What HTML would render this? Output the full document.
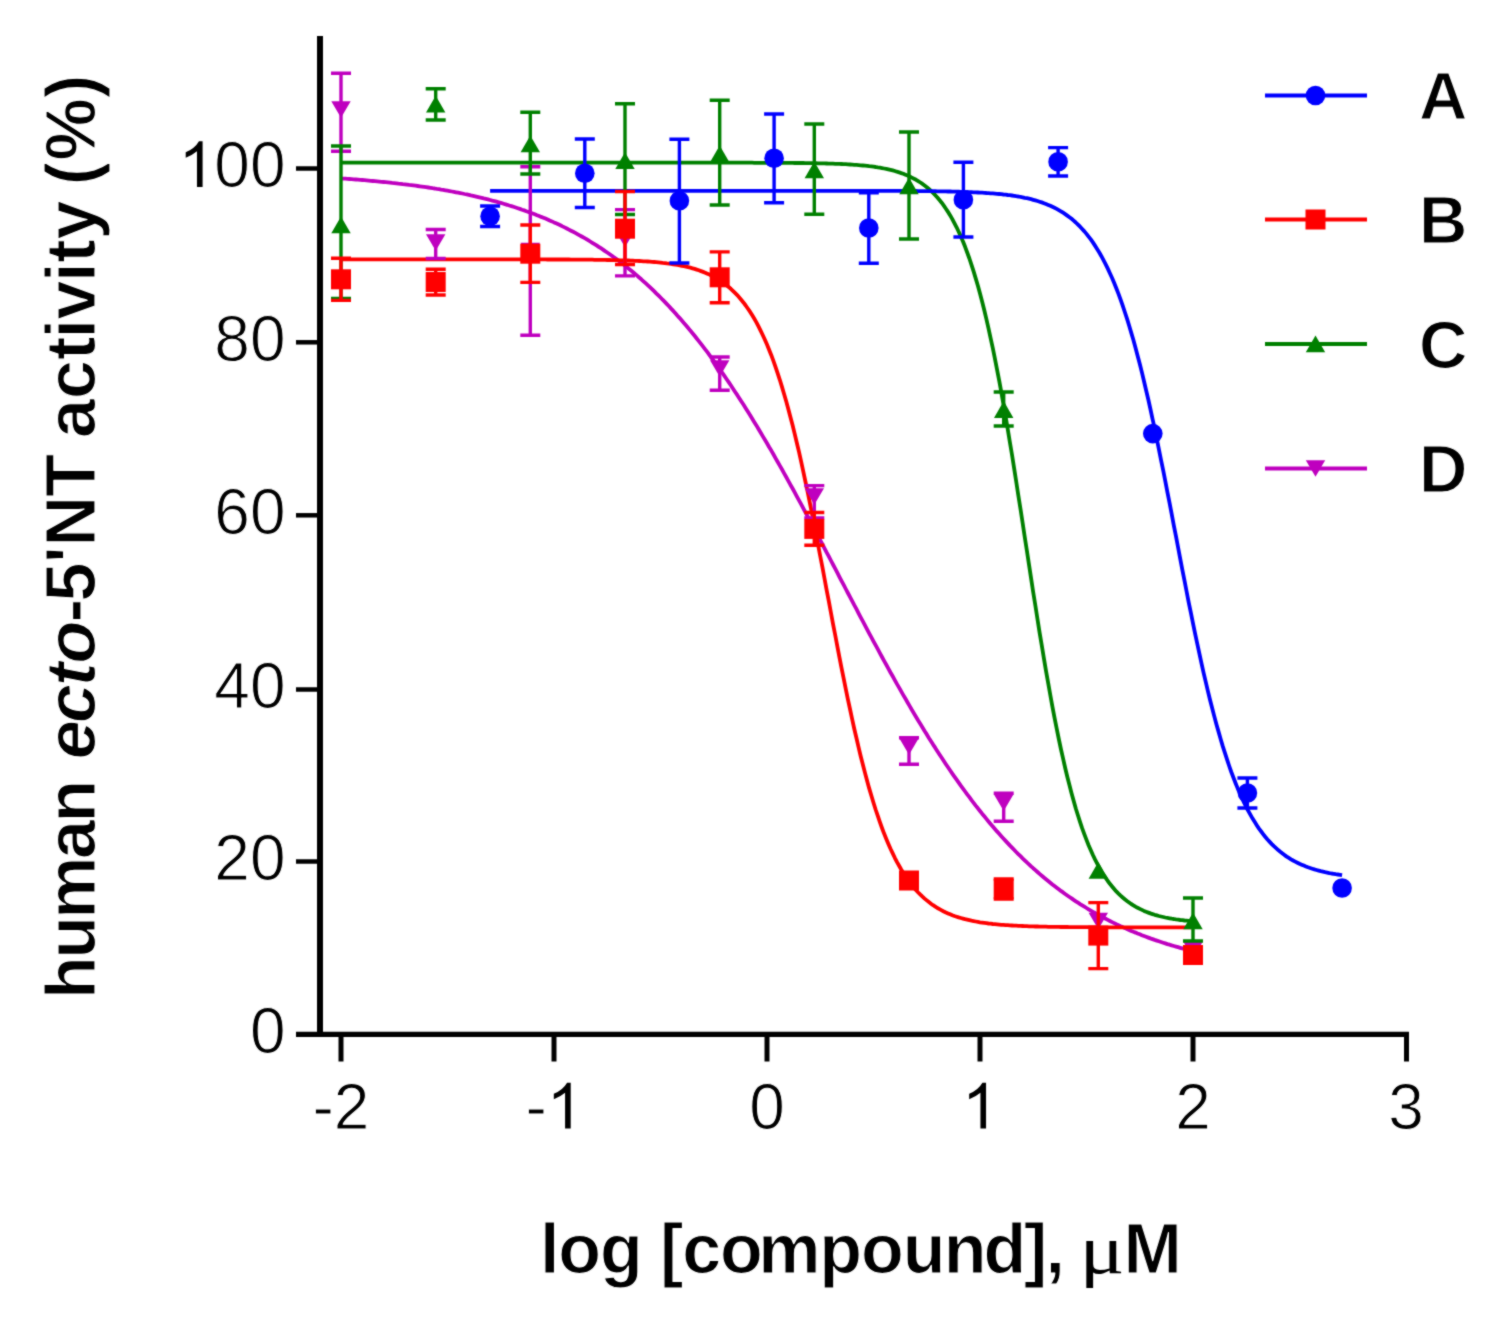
<!DOCTYPE html>
<html><head><meta charset="utf-8"><style>
html,body{margin:0;padding:0;background:#fff;}
svg{display:block;}
.tk{font-family:"Liberation Sans",sans-serif;font-size:64px;fill:#000;stroke:#fff;stroke-width:1.0px;stroke-linejoin:round;}
.lg{font-family:"Liberation Sans",sans-serif;font-size:67px;font-weight:bold;fill:#000;stroke:#fff;stroke-width:1.2px;stroke-linejoin:round;}
.tt{font-family:"Liberation Sans",sans-serif;font-size:70px;font-weight:bold;fill:#000;stroke:#fff;stroke-width:1.1px;stroke-linejoin:round;}
</style></head><body>
<svg width="1500" height="1318" viewBox="0 0 1500 1318">
<defs><filter id="bl" x="0" y="0" width="1" height="1" color-interpolation-filters="sRGB"><feConvolveMatrix order="3" kernelMatrix="0.5 1 0.5 1 6 1 0.5 1 0.5" divisor="12" edgeMode="duplicate"/></filter></defs>
<rect width="1500" height="1318" fill="#fff"/>
<g filter="url(#bl)">
<rect width="1500" height="1318" fill="#fff"/>
<path d="M320,36 V1036.5" stroke="#000" stroke-width="6" fill="none"/>
<path d="M296,1034.3 H1409" stroke="#000" stroke-width="5.2" fill="none"/>
<path d="M296,168.5 H320" stroke="#000" stroke-width="4.5" fill="none"/>
<text x="285.5" y="187.0" class="tk" text-anchor="end">00</text>
<path d="M202.59,187.00 L196.97,187.00 L196.97,151.16 Q192.19,155.12 185.72,157.72 L185.72,152.28 Q195.00,148.25 198.97,141.19 L202.59,141.19 Z" fill="#000"/>
<path d="M296,342.3 H320" stroke="#000" stroke-width="4.5" fill="none"/>
<text x="285.5" y="360.8" class="tk" text-anchor="end">80</text>
<path d="M296,515.3 H320" stroke="#000" stroke-width="4.5" fill="none"/>
<text x="285.5" y="533.8" class="tk" text-anchor="end">60</text>
<path d="M296,689.5 H320" stroke="#000" stroke-width="4.5" fill="none"/>
<text x="285.5" y="708.0" class="tk" text-anchor="end">40</text>
<path d="M296,861.5 H320" stroke="#000" stroke-width="4.5" fill="none"/>
<text x="285.5" y="880.0" class="tk" text-anchor="end">20</text>
<path d="M296,1034.3 H320" stroke="#000" stroke-width="4.5" fill="none"/>
<text x="285.5" y="1052.8" class="tk" text-anchor="end">0</text>
<path d="M341.0,1034.3 V1061.5" stroke="#000" stroke-width="5" fill="none"/>
<text x="341.0" y="1128.5" class="tk" text-anchor="middle">-2</text>
<path d="M554.0,1034.3 V1061.5" stroke="#000" stroke-width="5" fill="none"/>
<text x="525.6" y="1128.5" class="tk">-</text>
<path d="M570.71,1128.50 L565.08,1128.50 L565.08,1092.66 Q560.30,1096.62 553.83,1099.22 L553.83,1093.78 Q563.11,1089.75 567.08,1082.69 L570.71,1082.69 Z" fill="#000"/>
<path d="M767.0,1034.3 V1061.5" stroke="#000" stroke-width="5" fill="none"/>
<text x="767.0" y="1128.5" class="tk" text-anchor="middle">0</text>
<path d="M980.0,1034.3 V1061.5" stroke="#000" stroke-width="5" fill="none"/>
<path d="M986.05,1128.50 L980.43,1128.50 L980.43,1092.66 Q975.65,1096.62 969.18,1099.22 L969.18,1093.78 Q978.46,1089.75 982.43,1082.69 L986.05,1082.69 Z" fill="#000"/>
<path d="M1193.0,1034.3 V1061.5" stroke="#000" stroke-width="5" fill="none"/>
<text x="1193.0" y="1128.5" class="tk" text-anchor="middle">2</text>
<path d="M1406.5,1034.3 V1061.5" stroke="#000" stroke-width="5" fill="none"/>
<text x="1406.0" y="1128.5" class="tk" text-anchor="middle">3</text>
<path d="M341.0,178.4 L343.1,178.6 L345.3,178.7 L347.4,178.9 L349.5,179.0 L351.6,179.2 L353.8,179.4 L355.9,179.5 L358.0,179.7 L360.2,179.9 L362.3,180.0 L364.4,180.2 L366.6,180.4 L368.7,180.6 L370.8,180.8 L372.9,181.0 L375.1,181.2 L377.2,181.4 L379.3,181.6 L381.5,181.8 L383.6,182.0 L385.7,182.2 L387.9,182.4 L390.0,182.6 L392.1,182.9 L394.2,183.1 L396.4,183.3 L398.5,183.6 L400.6,183.8 L402.8,184.1 L404.9,184.3 L407.0,184.6 L409.2,184.9 L411.3,185.1 L413.4,185.4 L415.6,185.7 L417.7,186.0 L419.8,186.3 L421.9,186.6 L424.1,186.9 L426.2,187.2 L428.3,187.5 L430.5,187.8 L432.6,188.2 L434.7,188.5 L436.9,188.9 L439.0,189.2 L441.1,189.6 L443.2,189.9 L445.4,190.3 L447.5,190.7 L449.6,191.1 L451.8,191.5 L453.9,191.9 L456.0,192.3 L458.1,192.7 L460.3,193.1 L462.4,193.5 L464.5,194.0 L466.7,194.4 L468.8,194.9 L470.9,195.4 L473.1,195.8 L475.2,196.3 L477.3,196.8 L479.4,197.3 L481.6,197.8 L483.7,198.4 L485.8,198.9 L488.0,199.4 L490.1,200.0 L492.2,200.6 L494.4,201.1 L496.5,201.7 L498.6,202.3 L500.8,202.9 L502.9,203.5 L505.0,204.2 L507.1,204.8 L509.3,205.5 L511.4,206.1 L513.5,206.8 L515.7,207.5 L517.8,208.2 L519.9,208.9 L522.0,209.7 L524.2,210.4 L526.3,211.2 L528.4,211.9 L530.6,212.7 L532.7,213.5 L534.8,214.3 L537.0,215.2 L539.1,216.0 L541.2,216.9 L543.4,217.7 L545.5,218.6 L547.6,219.5 L549.7,220.5 L551.9,221.4 L554.0,222.4 L556.1,223.3 L558.3,224.3 L560.4,225.3 L562.5,226.4 L564.6,227.4 L566.8,228.5 L568.9,229.6 L571.0,230.7 L573.2,231.8 L575.3,232.9 L577.4,234.1 L579.6,235.3 L581.7,236.5 L583.8,237.7 L586.0,238.9 L588.1,240.2 L590.2,241.5 L592.3,242.8 L594.5,244.1 L596.6,245.4 L598.7,246.8 L600.9,248.2 L603.0,249.6 L605.1,251.1 L607.2,252.5 L609.4,254.0 L611.5,255.5 L613.6,257.1 L615.8,258.6 L617.9,260.2 L620.0,261.8 L622.2,263.4 L624.3,265.1 L626.4,266.8 L628.5,268.5 L630.7,270.2 L632.8,272.0 L634.9,273.8 L637.1,275.6 L639.2,277.5 L641.3,279.3 L643.5,281.3 L645.6,283.2 L647.7,285.1 L649.9,287.1 L652.0,289.1 L654.1,291.2 L656.2,293.3 L658.4,295.4 L660.5,297.5 L662.6,299.7 L664.8,301.9 L666.9,304.1 L669.0,306.3 L671.1,308.6 L673.3,310.9 L675.4,313.3 L677.5,315.7 L679.7,318.1 L681.8,320.5 L683.9,323.0 L686.1,325.5 L688.2,328.0 L690.3,330.6 L692.5,333.2 L694.6,335.8 L696.7,338.5 L698.8,341.1 L701.0,343.9 L703.1,346.6 L705.2,349.4 L707.4,352.2 L709.5,355.1 L711.6,358.0 L713.8,360.9 L715.9,363.8 L718.0,366.8 L720.1,369.8 L722.3,372.8 L724.4,375.9 L726.5,379.0 L728.7,382.1 L730.8,385.3 L732.9,388.5 L735.0,391.7 L737.2,394.9 L739.3,398.2 L741.4,401.5 L743.6,404.8 L745.7,408.2 L747.8,411.6 L750.0,415.0 L752.1,418.5 L754.2,421.9 L756.4,425.4 L758.5,429.0 L760.6,432.5 L762.7,436.1 L764.9,439.7 L767.0,443.3 L769.1,447.0 L771.3,450.6 L773.4,454.3 L775.5,458.1 L777.6,461.8 L779.8,465.6 L781.9,469.3 L784.0,473.1 L786.2,477.0 L788.3,480.8 L790.4,484.7 L792.6,488.5 L794.7,492.4 L796.8,496.3 L799.0,500.3 L801.1,504.2 L803.2,508.2 L805.3,512.1 L807.5,516.1 L809.6,520.1 L811.7,524.1 L813.9,528.1 L816.0,532.1 L818.1,536.2 L820.2,540.2 L822.4,544.2 L824.5,548.3 L826.6,552.4 L828.8,556.4 L830.9,560.5 L833.0,564.5 L835.2,568.6 L837.3,572.7 L839.4,576.8 L841.5,580.8 L843.7,584.9 L845.8,589.0 L847.9,593.0 L850.1,597.1 L852.2,601.1 L854.3,605.2 L856.5,609.2 L858.6,613.3 L860.7,617.3 L862.9,621.3 L865.0,625.3 L867.1,629.3 L869.2,633.3 L871.4,637.3 L873.5,641.3 L875.6,645.2 L877.8,649.2 L879.9,653.1 L882.0,657.0 L884.1,660.9 L886.3,664.8 L888.4,668.6 L890.5,672.5 L892.7,676.3 L894.8,680.1 L896.9,683.9 L899.1,687.6 L901.2,691.4 L903.3,695.1 L905.5,698.8 L907.6,702.5 L909.7,706.1 L911.8,709.8 L914.0,713.4 L916.1,716.9 L918.2,720.5 L920.4,724.0 L922.5,727.5 L924.6,731.0 L926.8,734.4 L928.9,737.9 L931.0,741.2 L933.1,744.6 L935.3,747.9 L937.4,751.3 L939.5,754.5 L941.7,757.8 L943.8,761.0 L945.9,764.2 L948.0,767.3 L950.2,770.5 L952.3,773.6 L954.4,776.6 L956.6,779.7 L958.7,782.7 L960.8,785.7 L963.0,788.6 L965.1,791.5 L967.2,794.4 L969.4,797.2 L971.5,800.1 L973.6,802.8 L975.7,805.6 L977.9,808.3 L980.0,811.0 L982.1,813.7 L984.3,816.3 L986.4,818.9 L988.5,821.5 L990.6,824.0 L992.8,826.5 L994.9,829.0 L997.0,831.4 L999.2,833.8 L1001.3,836.2 L1003.4,838.5 L1005.6,840.9 L1007.7,843.1 L1009.8,845.4 L1012.0,847.6 L1014.1,849.8 L1016.2,852.0 L1018.3,854.1 L1020.5,856.2 L1022.6,858.3 L1024.7,860.3 L1026.9,862.4 L1029.0,864.3 L1031.1,866.3 L1033.2,868.2 L1035.4,870.1 L1037.5,872.0 L1039.6,873.9 L1041.8,875.7 L1043.9,877.5 L1046.0,879.2 L1048.2,881.0 L1050.3,882.7 L1052.4,884.4 L1054.5,886.0 L1056.7,887.7 L1058.8,889.3 L1060.9,890.9 L1063.1,892.4 L1065.2,894.0 L1067.3,895.5 L1069.5,897.0 L1071.6,898.4 L1073.7,899.9 L1075.8,901.3 L1078.0,902.7 L1080.1,904.1 L1082.2,905.4 L1084.4,906.7 L1086.5,908.0 L1088.6,909.3 L1090.8,910.6 L1092.9,911.8 L1095.0,913.0 L1097.2,914.2 L1099.3,915.4 L1101.4,916.6 L1103.5,917.7 L1105.7,918.8 L1107.8,919.9 L1109.9,921.0 L1112.1,922.1 L1114.2,923.1 L1116.3,924.2 L1118.5,925.2 L1120.6,926.2 L1122.7,927.1 L1124.8,928.1 L1127.0,929.0 L1129.1,930.0 L1131.2,930.9 L1133.4,931.8 L1135.5,932.6 L1137.6,933.5 L1139.8,934.3 L1141.9,935.2 L1144.0,936.0 L1146.1,936.8 L1148.3,937.6 L1150.4,938.4 L1152.5,939.1 L1154.7,939.9 L1156.8,940.6 L1158.9,941.3 L1161.0,942.0 L1163.2,942.7 L1165.3,943.4 L1167.4,944.1 L1169.6,944.7 L1171.7,945.4 L1173.8,946.0 L1176.0,946.6 L1178.1,947.2 L1180.2,947.8 L1182.3,948.4 L1184.5,949.0 L1186.6,949.5 L1188.7,950.1 L1190.9,950.6 L1193.0,951.2" stroke="#BF00BF" stroke-width="3.8" fill="none" stroke-linejoin="round"/>
<path d="M341.0,162.7 L343.1,162.7 L345.3,162.7 L347.4,162.7 L349.5,162.7 L351.6,162.7 L353.8,162.7 L355.9,162.7 L358.0,162.7 L360.2,162.7 L362.3,162.7 L364.4,162.7 L366.6,162.7 L368.7,162.7 L370.8,162.7 L372.9,162.7 L375.1,162.7 L377.2,162.7 L379.3,162.7 L381.5,162.7 L383.6,162.7 L385.7,162.7 L387.9,162.7 L390.0,162.7 L392.1,162.7 L394.2,162.7 L396.4,162.7 L398.5,162.7 L400.6,162.7 L402.8,162.7 L404.9,162.7 L407.0,162.7 L409.2,162.7 L411.3,162.7 L413.4,162.7 L415.6,162.7 L417.7,162.7 L419.8,162.7 L421.9,162.7 L424.1,162.7 L426.2,162.7 L428.3,162.7 L430.5,162.7 L432.6,162.7 L434.7,162.7 L436.9,162.7 L439.0,162.7 L441.1,162.7 L443.2,162.7 L445.4,162.7 L447.5,162.7 L449.6,162.7 L451.8,162.7 L453.9,162.7 L456.0,162.7 L458.1,162.7 L460.3,162.7 L462.4,162.7 L464.5,162.7 L466.7,162.7 L468.8,162.7 L470.9,162.7 L473.1,162.7 L475.2,162.7 L477.3,162.7 L479.4,162.7 L481.6,162.7 L483.7,162.7 L485.8,162.7 L488.0,162.7 L490.1,162.7 L492.2,162.7 L494.4,162.7 L496.5,162.7 L498.6,162.7 L500.8,162.7 L502.9,162.7 L505.0,162.7 L507.1,162.7 L509.3,162.7 L511.4,162.7 L513.5,162.7 L515.7,162.7 L517.8,162.7 L519.9,162.7 L522.0,162.7 L524.2,162.7 L526.3,162.7 L528.4,162.7 L530.6,162.7 L532.7,162.7 L534.8,162.7 L537.0,162.7 L539.1,162.7 L541.2,162.7 L543.4,162.7 L545.5,162.7 L547.6,162.7 L549.7,162.7 L551.9,162.7 L554.0,162.7 L556.1,162.7 L558.3,162.7 L560.4,162.7 L562.5,162.7 L564.6,162.7 L566.8,162.7 L568.9,162.7 L571.0,162.7 L573.2,162.7 L575.3,162.7 L577.4,162.7 L579.6,162.7 L581.7,162.7 L583.8,162.7 L586.0,162.7 L588.1,162.7 L590.2,162.7 L592.3,162.7 L594.5,162.7 L596.6,162.7 L598.7,162.7 L600.9,162.7 L603.0,162.7 L605.1,162.7 L607.2,162.7 L609.4,162.7 L611.5,162.7 L613.6,162.7 L615.8,162.7 L617.9,162.7 L620.0,162.7 L622.2,162.7 L624.3,162.7 L626.4,162.7 L628.5,162.7 L630.7,162.7 L632.8,162.7 L634.9,162.7 L637.1,162.7 L639.2,162.7 L641.3,162.7 L643.5,162.7 L645.6,162.7 L647.7,162.7 L649.9,162.7 L652.0,162.7 L654.1,162.7 L656.2,162.7 L658.4,162.7 L660.5,162.7 L662.6,162.7 L664.8,162.7 L666.9,162.7 L669.0,162.7 L671.1,162.7 L673.3,162.7 L675.4,162.7 L677.5,162.7 L679.7,162.7 L681.8,162.7 L683.9,162.7 L686.1,162.7 L688.2,162.7 L690.3,162.7 L692.5,162.7 L694.6,162.7 L696.7,162.7 L698.8,162.7 L701.0,162.7 L703.1,162.7 L705.2,162.7 L707.4,162.7 L709.5,162.7 L711.6,162.7 L713.8,162.7 L715.9,162.7 L718.0,162.7 L720.1,162.7 L722.3,162.7 L724.4,162.7 L726.5,162.7 L728.7,162.7 L730.8,162.7 L732.9,162.7 L735.0,162.7 L737.2,162.7 L739.3,162.7 L741.4,162.7 L743.6,162.7 L745.7,162.7 L747.8,162.7 L750.0,162.7 L752.1,162.7 L754.2,162.8 L756.4,162.8 L758.5,162.8 L760.6,162.8 L762.7,162.8 L764.9,162.8 L767.0,162.8 L769.1,162.8 L771.3,162.8 L773.4,162.8 L775.5,162.8 L777.6,162.8 L779.8,162.8 L781.9,162.9 L784.0,162.9 L786.2,162.9 L788.3,162.9 L790.4,162.9 L792.6,162.9 L794.7,163.0 L796.8,163.0 L799.0,163.0 L801.1,163.0 L803.2,163.0 L805.3,163.1 L807.5,163.1 L809.6,163.1 L811.7,163.2 L813.9,163.2 L816.0,163.2 L818.1,163.3 L820.2,163.3 L822.4,163.4 L824.5,163.4 L826.6,163.5 L828.8,163.6 L830.9,163.6 L833.0,163.7 L835.2,163.8 L837.3,163.9 L839.4,163.9 L841.5,164.0 L843.7,164.1 L845.8,164.2 L847.9,164.4 L850.1,164.5 L852.2,164.6 L854.3,164.8 L856.5,164.9 L858.6,165.1 L860.7,165.3 L862.9,165.5 L865.0,165.7 L867.1,165.9 L869.2,166.2 L871.4,166.4 L873.5,166.7 L875.6,167.0 L877.8,167.4 L879.9,167.7 L882.0,168.1 L884.1,168.5 L886.3,168.9 L888.4,169.4 L890.5,169.9 L892.7,170.4 L894.8,171.0 L896.9,171.7 L899.1,172.3 L901.2,173.1 L903.3,173.8 L905.5,174.7 L907.6,175.6 L909.7,176.5 L911.8,177.6 L914.0,178.7 L916.1,179.8 L918.2,181.1 L920.4,182.5 L922.5,183.9 L924.6,185.5 L926.8,187.2 L928.9,189.0 L931.0,190.9 L933.1,193.0 L935.3,195.2 L937.4,197.5 L939.5,200.0 L941.7,202.7 L943.8,205.6 L945.9,208.7 L948.0,211.9 L950.2,215.4 L952.3,219.1 L954.4,223.1 L956.6,227.3 L958.7,231.7 L960.8,236.5 L963.0,241.5 L965.1,246.8 L967.2,252.5 L969.4,258.5 L971.5,264.8 L973.6,271.4 L975.7,278.4 L977.9,285.8 L980.0,293.5 L982.1,301.6 L984.3,310.2 L986.4,319.1 L988.5,328.4 L990.6,338.1 L992.8,348.1 L994.9,358.6 L997.0,369.4 L999.2,380.6 L1001.3,392.2 L1003.4,404.1 L1005.6,416.4 L1007.7,428.9 L1009.8,441.7 L1012.0,454.8 L1014.1,468.1 L1016.2,481.5 L1018.3,495.2 L1020.5,509.0 L1022.6,522.8 L1024.7,536.7 L1026.9,550.7 L1029.0,564.6 L1031.1,578.4 L1033.2,592.2 L1035.4,605.8 L1037.5,619.3 L1039.6,632.6 L1041.8,645.6 L1043.9,658.4 L1046.0,670.9 L1048.2,683.1 L1050.3,695.0 L1052.4,706.6 L1054.5,717.7 L1056.7,728.6 L1058.8,739.0 L1060.9,749.0 L1063.1,758.7 L1065.2,768.0 L1067.3,776.8 L1069.5,785.3 L1071.6,793.4 L1073.7,801.1 L1075.8,808.5 L1078.0,815.5 L1080.1,822.1 L1082.2,828.4 L1084.4,834.3 L1086.5,839.9 L1088.6,845.2 L1090.8,850.2 L1092.9,855.0 L1095.0,859.4 L1097.2,863.6 L1099.3,867.5 L1101.4,871.2 L1103.5,874.7 L1105.7,877.9 L1107.8,881.0 L1109.9,883.8 L1112.1,886.5 L1114.2,889.0 L1116.3,891.4 L1118.5,893.6 L1120.6,895.6 L1122.7,897.5 L1124.8,899.3 L1127.0,901.0 L1129.1,902.5 L1131.2,904.0 L1133.4,905.3 L1135.5,906.6 L1137.6,907.8 L1139.8,908.9 L1141.9,909.9 L1144.0,910.9 L1146.1,911.8 L1148.3,912.6 L1150.4,913.4 L1152.5,914.1 L1154.7,914.8 L1156.8,915.4 L1158.9,916.0 L1161.0,916.5 L1163.2,917.0 L1165.3,917.5 L1167.4,917.9 L1169.6,918.3 L1171.7,918.7 L1173.8,919.0 L1176.0,919.4 L1178.1,919.7 L1180.2,920.0 L1182.3,920.2 L1184.5,920.5 L1186.6,920.7 L1188.7,920.9 L1190.9,921.1 L1193.0,921.3" stroke="#008000" stroke-width="3.8" fill="none" stroke-linejoin="round"/>
<path d="M341.0,259.4 L343.1,259.4 L345.3,259.4 L347.4,259.4 L349.5,259.4 L351.6,259.4 L353.8,259.4 L355.9,259.4 L358.0,259.4 L360.2,259.4 L362.3,259.4 L364.4,259.4 L366.6,259.4 L368.7,259.4 L370.8,259.4 L372.9,259.4 L375.1,259.4 L377.2,259.4 L379.3,259.4 L381.5,259.4 L383.6,259.4 L385.7,259.4 L387.9,259.4 L390.0,259.4 L392.1,259.4 L394.2,259.4 L396.4,259.4 L398.5,259.4 L400.6,259.4 L402.8,259.4 L404.9,259.4 L407.0,259.4 L409.2,259.4 L411.3,259.4 L413.4,259.4 L415.6,259.4 L417.7,259.4 L419.8,259.4 L421.9,259.4 L424.1,259.4 L426.2,259.4 L428.3,259.4 L430.5,259.4 L432.6,259.4 L434.7,259.4 L436.9,259.4 L439.0,259.4 L441.1,259.4 L443.2,259.4 L445.4,259.4 L447.5,259.4 L449.6,259.4 L451.8,259.4 L453.9,259.4 L456.0,259.4 L458.1,259.4 L460.3,259.4 L462.4,259.4 L464.5,259.4 L466.7,259.4 L468.8,259.4 L470.9,259.4 L473.1,259.4 L475.2,259.4 L477.3,259.4 L479.4,259.4 L481.6,259.4 L483.7,259.4 L485.8,259.4 L488.0,259.4 L490.1,259.4 L492.2,259.4 L494.4,259.4 L496.5,259.4 L498.6,259.4 L500.8,259.4 L502.9,259.4 L505.0,259.4 L507.1,259.4 L509.3,259.4 L511.4,259.4 L513.5,259.4 L515.7,259.4 L517.8,259.4 L519.9,259.4 L522.0,259.4 L524.2,259.4 L526.3,259.4 L528.4,259.4 L530.6,259.4 L532.7,259.4 L534.8,259.4 L537.0,259.4 L539.1,259.4 L541.2,259.4 L543.4,259.4 L545.5,259.4 L547.6,259.5 L549.7,259.5 L551.9,259.5 L554.0,259.5 L556.1,259.5 L558.3,259.5 L560.4,259.5 L562.5,259.5 L564.6,259.5 L566.8,259.5 L568.9,259.5 L571.0,259.6 L573.2,259.6 L575.3,259.6 L577.4,259.6 L579.6,259.6 L581.7,259.6 L583.8,259.6 L586.0,259.7 L588.1,259.7 L590.2,259.7 L592.3,259.7 L594.5,259.8 L596.6,259.8 L598.7,259.8 L600.9,259.9 L603.0,259.9 L605.1,259.9 L607.2,260.0 L609.4,260.0 L611.5,260.1 L613.6,260.1 L615.8,260.2 L617.9,260.2 L620.0,260.3 L622.2,260.3 L624.3,260.4 L626.4,260.5 L628.5,260.5 L630.7,260.6 L632.8,260.7 L634.9,260.8 L637.1,260.9 L639.2,261.0 L641.3,261.1 L643.5,261.3 L645.6,261.4 L647.7,261.5 L649.9,261.7 L652.0,261.9 L654.1,262.0 L656.2,262.2 L658.4,262.4 L660.5,262.6 L662.6,262.9 L664.8,263.1 L666.9,263.4 L669.0,263.6 L671.1,263.9 L673.3,264.3 L675.4,264.6 L677.5,265.0 L679.7,265.4 L681.8,265.8 L683.9,266.2 L686.1,266.7 L688.2,267.2 L690.3,267.7 L692.5,268.3 L694.6,268.9 L696.7,269.6 L698.8,270.3 L701.0,271.1 L703.1,271.9 L705.2,272.7 L707.4,273.7 L709.5,274.6 L711.6,275.7 L713.8,276.8 L715.9,278.0 L718.0,279.3 L720.1,280.6 L722.3,282.1 L724.4,283.6 L726.5,285.2 L728.7,287.0 L730.8,288.8 L732.9,290.8 L735.0,292.9 L737.2,295.1 L739.3,297.5 L741.4,300.0 L743.6,302.7 L745.7,305.5 L747.8,308.5 L750.0,311.7 L752.1,315.1 L754.2,318.6 L756.4,322.4 L758.5,326.4 L760.6,330.6 L762.7,335.0 L764.9,339.7 L767.0,344.6 L769.1,349.8 L771.3,355.2 L773.4,360.9 L775.5,366.9 L777.6,373.2 L779.8,379.8 L781.9,386.6 L784.0,393.7 L786.2,401.2 L788.3,408.9 L790.4,416.9 L792.6,425.3 L794.7,433.9 L796.8,442.8 L799.0,451.9 L801.1,461.4 L803.2,471.1 L805.3,481.0 L807.5,491.2 L809.6,501.6 L811.7,512.1 L813.9,522.9 L816.0,533.8 L818.1,544.8 L820.2,556.0 L822.4,567.2 L824.5,578.5 L826.6,589.9 L828.8,601.2 L830.9,612.5 L833.0,623.8 L835.2,635.0 L837.3,646.1 L839.4,657.1 L841.5,667.9 L843.7,678.6 L845.8,689.1 L847.9,699.4 L850.1,709.5 L852.2,719.4 L854.3,729.0 L856.5,738.3 L858.6,747.4 L860.7,756.2 L862.9,764.7 L865.0,772.9 L867.1,780.8 L869.2,788.4 L871.4,795.7 L873.5,802.8 L875.6,809.5 L877.8,815.9 L879.9,822.1 L882.0,828.0 L884.1,833.6 L886.3,838.9 L888.4,844.0 L890.5,848.8 L892.7,853.4 L894.8,857.8 L896.9,861.9 L899.1,865.8 L901.2,869.5 L903.3,873.0 L905.5,876.3 L907.6,879.4 L909.7,882.3 L911.8,885.1 L914.0,887.7 L916.1,890.2 L918.2,892.5 L920.4,894.7 L922.5,896.7 L924.6,898.6 L926.8,900.4 L928.9,902.1 L931.0,903.7 L933.1,905.2 L935.3,906.6 L937.4,908.0 L939.5,909.2 L941.7,910.4 L943.8,911.5 L945.9,912.5 L948.0,913.4 L950.2,914.3 L952.3,915.2 L954.4,916.0 L956.6,916.7 L958.7,917.4 L960.8,918.0 L963.0,918.6 L965.1,919.2 L967.2,919.7 L969.4,920.2 L971.5,920.7 L973.6,921.1 L975.7,921.5 L977.9,921.9 L980.0,922.3 L982.1,922.6 L984.3,922.9 L986.4,923.2 L988.5,923.5 L990.6,923.7 L992.8,924.0 L994.9,924.2 L997.0,924.4 L999.2,924.6 L1001.3,924.8 L1003.4,924.9 L1005.6,925.1 L1007.7,925.2 L1009.8,925.4 L1012.0,925.5 L1014.1,925.6 L1016.2,925.7 L1018.3,925.8 L1020.5,925.9 L1022.6,926.0 L1024.7,926.1 L1026.9,926.2 L1029.0,926.3 L1031.1,926.4 L1033.2,926.4 L1035.4,926.5 L1037.5,926.5 L1039.6,926.6 L1041.8,926.6 L1043.9,926.7 L1046.0,926.7 L1048.2,926.8 L1050.3,926.8 L1052.4,926.8 L1054.5,926.9 L1056.7,926.9 L1058.8,926.9 L1060.9,927.0 L1063.1,927.0 L1065.2,927.0 L1067.3,927.0 L1069.5,927.1 L1071.6,927.1 L1073.7,927.1 L1075.8,927.1 L1078.0,927.1 L1080.1,927.1 L1082.2,927.2 L1084.4,927.2 L1086.5,927.2 L1088.6,927.2 L1090.8,927.2 L1092.9,927.2 L1095.0,927.2 L1097.2,927.2 L1099.3,927.2 L1101.4,927.3 L1103.5,927.3 L1105.7,927.3 L1107.8,927.3 L1109.9,927.3 L1112.1,927.3 L1114.2,927.3 L1116.3,927.3 L1118.5,927.3 L1120.6,927.3 L1122.7,927.3 L1124.8,927.3 L1127.0,927.3 L1129.1,927.3 L1131.2,927.3 L1133.4,927.3 L1135.5,927.3 L1137.6,927.3 L1139.8,927.3 L1141.9,927.3 L1144.0,927.3 L1146.1,927.3 L1148.3,927.3 L1150.4,927.3 L1152.5,927.3 L1154.7,927.3 L1156.8,927.3 L1158.9,927.3 L1161.0,927.3 L1163.2,927.3 L1165.3,927.3 L1167.4,927.3 L1169.6,927.3 L1171.7,927.3 L1173.8,927.3 L1176.0,927.4 L1178.1,927.4 L1180.2,927.4 L1182.3,927.4 L1184.5,927.4 L1186.6,927.4 L1188.7,927.4 L1190.9,927.4 L1193.0,927.4" stroke="#FF0000" stroke-width="3.8" fill="none" stroke-linejoin="round"/>
<path d="M490.1,190.8 L492.2,190.8 L494.4,190.8 L496.5,190.8 L498.6,190.8 L500.7,190.8 L502.9,190.8 L505.0,190.8 L507.1,190.8 L509.3,190.8 L511.4,190.8 L513.5,190.8 L515.7,190.8 L517.8,190.8 L519.9,190.8 L522.0,190.8 L524.2,190.8 L526.3,190.8 L528.4,190.8 L530.6,190.8 L532.7,190.8 L534.8,190.8 L537.0,190.8 L539.1,190.8 L541.2,190.8 L543.3,190.8 L545.5,190.8 L547.6,190.8 L549.7,190.8 L551.9,190.8 L554.0,190.8 L556.1,190.8 L558.3,190.8 L560.4,190.8 L562.5,190.8 L564.6,190.8 L566.8,190.8 L568.9,190.8 L571.0,190.8 L573.2,190.8 L575.3,190.8 L577.4,190.8 L579.6,190.8 L581.7,190.8 L583.8,190.8 L585.9,190.8 L588.1,190.8 L590.2,190.8 L592.3,190.8 L594.5,190.8 L596.6,190.8 L598.7,190.8 L600.9,190.8 L603.0,190.8 L605.1,190.8 L607.2,190.8 L609.4,190.8 L611.5,190.8 L613.6,190.8 L615.8,190.8 L617.9,190.8 L620.0,190.8 L622.2,190.8 L624.3,190.8 L626.4,190.8 L628.5,190.8 L630.7,190.8 L632.8,190.8 L634.9,190.8 L637.1,190.8 L639.2,190.8 L641.3,190.8 L643.5,190.8 L645.6,190.8 L647.7,190.8 L649.8,190.8 L652.0,190.8 L654.1,190.8 L656.2,190.8 L658.4,190.8 L660.5,190.8 L662.6,190.8 L664.8,190.8 L666.9,190.8 L669.0,190.8 L671.1,190.8 L673.3,190.8 L675.4,190.8 L677.5,190.8 L679.7,190.8 L681.8,190.8 L683.9,190.8 L686.1,190.8 L688.2,190.8 L690.3,190.8 L692.4,190.8 L694.6,190.8 L696.7,190.8 L698.8,190.8 L701.0,190.8 L703.1,190.8 L705.2,190.8 L707.4,190.8 L709.5,190.8 L711.6,190.8 L713.8,190.8 L715.9,190.8 L718.0,190.8 L720.1,190.8 L722.3,190.8 L724.4,190.8 L726.5,190.8 L728.7,190.8 L730.8,190.8 L732.9,190.8 L735.0,190.8 L737.2,190.8 L739.3,190.8 L741.4,190.8 L743.6,190.8 L745.7,190.8 L747.8,190.8 L750.0,190.8 L752.1,190.8 L754.2,190.8 L756.3,190.8 L758.5,190.8 L760.6,190.8 L762.7,190.8 L764.9,190.8 L767.0,190.8 L769.1,190.8 L771.3,190.8 L773.4,190.8 L775.5,190.8 L777.6,190.8 L779.8,190.8 L781.9,190.8 L784.0,190.8 L786.2,190.8 L788.3,190.8 L790.4,190.8 L792.6,190.8 L794.7,190.8 L796.8,190.8 L799.0,190.8 L801.1,190.8 L803.2,190.8 L805.3,190.8 L807.5,190.8 L809.6,190.8 L811.7,190.8 L813.9,190.8 L816.0,190.8 L818.1,190.8 L820.2,190.8 L822.4,190.8 L824.5,190.8 L826.6,190.8 L828.8,190.8 L830.9,190.8 L833.0,190.8 L835.2,190.8 L837.3,190.8 L839.4,190.8 L841.5,190.8 L843.7,190.8 L845.8,190.8 L847.9,190.8 L850.1,190.8 L852.2,190.8 L854.3,190.8 L856.5,190.8 L858.6,190.8 L860.7,190.8 L862.8,190.8 L865.0,190.8 L867.1,190.8 L869.2,190.8 L871.4,190.8 L873.5,190.8 L875.6,190.8 L877.8,190.9 L879.9,190.9 L882.0,190.9 L884.1,190.9 L886.3,190.9 L888.4,190.9 L890.5,190.9 L892.7,190.9 L894.8,190.9 L896.9,190.9 L899.1,190.9 L901.2,190.9 L903.3,191.0 L905.5,191.0 L907.6,191.0 L909.7,191.0 L911.8,191.0 L914.0,191.0 L916.1,191.0 L918.2,191.1 L920.4,191.1 L922.5,191.1 L924.6,191.1 L926.8,191.1 L928.9,191.2 L931.0,191.2 L933.1,191.2 L935.3,191.2 L937.4,191.3 L939.5,191.3 L941.7,191.3 L943.8,191.4 L945.9,191.4 L948.0,191.5 L950.2,191.5 L952.3,191.6 L954.4,191.6 L956.6,191.7 L958.7,191.7 L960.8,191.8 L963.0,191.9 L965.1,191.9 L967.2,192.0 L969.3,192.1 L971.5,192.2 L973.6,192.3 L975.7,192.4 L977.9,192.5 L980.0,192.6 L982.1,192.7 L984.3,192.8 L986.4,193.0 L988.5,193.1 L990.6,193.3 L992.8,193.4 L994.9,193.6 L997.0,193.8 L999.2,194.0 L1001.3,194.2 L1003.4,194.5 L1005.6,194.7 L1007.7,195.0 L1009.8,195.2 L1012.0,195.5 L1014.1,195.8 L1016.2,196.2 L1018.3,196.5 L1020.5,196.9 L1022.6,197.3 L1024.7,197.8 L1026.9,198.2 L1029.0,198.7 L1031.1,199.2 L1033.2,199.8 L1035.4,200.4 L1037.5,201.0 L1039.6,201.7 L1041.8,202.4 L1043.9,203.2 L1046.0,204.0 L1048.2,204.9 L1050.3,205.8 L1052.4,206.8 L1054.5,207.8 L1056.7,208.9 L1058.8,210.1 L1060.9,211.3 L1063.1,212.7 L1065.2,214.1 L1067.3,215.6 L1069.5,217.2 L1071.6,218.8 L1073.7,220.6 L1075.8,222.5 L1078.0,224.6 L1080.1,226.7 L1082.2,229.0 L1084.4,231.4 L1086.5,233.9 L1088.6,236.6 L1090.8,239.4 L1092.9,242.4 L1095.0,245.6 L1097.1,248.9 L1099.3,252.5 L1101.4,256.2 L1103.5,260.1 L1105.7,264.3 L1107.8,268.6 L1109.9,273.2 L1112.1,278.0 L1114.2,283.0 L1116.3,288.3 L1118.5,293.9 L1120.6,299.7 L1122.7,305.7 L1124.8,312.0 L1127.0,318.6 L1129.1,325.5 L1131.2,332.6 L1133.4,340.0 L1135.5,347.7 L1137.6,355.7 L1139.8,363.9 L1141.9,372.4 L1144.0,381.2 L1146.1,390.2 L1148.3,399.5 L1150.4,409.0 L1152.5,418.8 L1154.7,428.7 L1156.8,438.9 L1158.9,449.3 L1161.0,459.8 L1163.2,470.4 L1165.3,481.2 L1167.4,492.1 L1169.6,503.1 L1171.7,514.2 L1173.8,525.3 L1176.0,536.4 L1178.1,547.5 L1180.2,558.6 L1182.3,569.7 L1184.5,580.6 L1186.6,591.5 L1188.7,602.3 L1190.9,612.9 L1193.0,623.4 L1195.1,633.7 L1197.3,643.8 L1199.4,653.7 L1201.5,663.4 L1203.6,672.9 L1205.8,682.1 L1207.9,691.1 L1210.0,699.8 L1212.2,708.2 L1214.3,716.4 L1216.4,724.3 L1218.6,731.9 L1220.7,739.3 L1222.8,746.4 L1225.0,753.2 L1227.1,759.7 L1229.2,766.0 L1231.3,772.0 L1233.5,777.7 L1235.6,783.2 L1237.7,788.4 L1239.9,793.4 L1242.0,798.1 L1244.1,802.7 L1246.2,807.0 L1248.4,811.1 L1250.5,814.9 L1252.6,818.6 L1254.8,822.1 L1256.9,825.4 L1259.0,828.6 L1261.2,831.5 L1263.3,834.3 L1265.4,837.0 L1267.5,839.5 L1269.7,841.9 L1271.8,844.1 L1273.9,846.2 L1276.1,848.2 L1278.2,850.1 L1280.3,851.8 L1282.5,853.5 L1284.6,855.1 L1286.7,856.6 L1288.8,857.9 L1291.0,859.3 L1293.1,860.5 L1295.2,861.6 L1297.4,862.7 L1299.5,863.8 L1301.6,864.7 L1303.8,865.6 L1305.9,866.5 L1308.0,867.3 L1310.1,868.0 L1312.3,868.7 L1314.4,869.4 L1316.5,870.0 L1318.7,870.6 L1320.8,871.2 L1322.9,871.7 L1325.1,872.2 L1327.2,872.6 L1329.3,873.1 L1331.5,873.5 L1333.6,873.8 L1335.7,874.2 L1337.8,874.5 L1340.0,874.8 L1342.1,875.1" stroke="#0000FF" stroke-width="3.8" fill="none" stroke-linejoin="round"/>
<path d="M341.0,73.3 V151.3 M331.0,73.3 H351.0 M331.0,151.3 H351.0" stroke="#BF00BF" stroke-width="3.4" fill="none"/>
<path d="M331.3,101.3 L350.7,101.3 L341.0,117.8 Z" fill="#BF00BF"/>
<path d="M435.7,229.5 V258.5 M425.7,229.5 H445.7 M425.7,258.5 H445.7" stroke="#BF00BF" stroke-width="3.4" fill="none"/>
<path d="M426.0,234.3 L445.4,234.3 L435.7,250.8 Z" fill="#BF00BF"/>
<path d="M530.3,166.7 V335.3 M520.3,166.7 H540.3 M520.3,335.3 H540.3" stroke="#BF00BF" stroke-width="3.4" fill="none"/>
<path d="M520.6,242.8 L540.0,242.8 L530.3,259.3 Z" fill="#BF00BF"/>
<path d="M625.0,209.6 V275.9 M615.0,209.6 H635.0 M615.0,275.9 H635.0" stroke="#BF00BF" stroke-width="3.4" fill="none"/>
<path d="M615.3,230.8 L634.7,230.8 L625.0,247.3 Z" fill="#BF00BF"/>
<path d="M719.7,357.0 V390.3 M709.7,357.0 H729.7 M709.7,390.3 H729.7" stroke="#BF00BF" stroke-width="3.4" fill="none"/>
<path d="M710.0,360.3 L729.4,360.3 L719.7,376.8 Z" fill="#BF00BF"/>
<path d="M814.3,485.6 V517.9 M804.3,485.6 H824.3 M804.3,517.9 H824.3" stroke="#BF00BF" stroke-width="3.4" fill="none"/>
<path d="M804.6,488.3 L824.0,488.3 L814.3,504.8 Z" fill="#BF00BF"/>
<path d="M909.0,737.7 V764.3 M899.0,737.7 H919.0 M899.0,764.3 H919.0" stroke="#BF00BF" stroke-width="3.4" fill="none"/>
<path d="M899.3,738.3 L918.7,738.3 L909.0,754.8 Z" fill="#BF00BF"/>
<path d="M1003.7,793.3 V821.3 M993.7,793.3 H1013.7 M993.7,821.3 H1013.7" stroke="#BF00BF" stroke-width="3.4" fill="none"/>
<path d="M994.0,794.5 L1013.4,794.5 L1003.7,811.0 Z" fill="#BF00BF"/>
<path d="M1088.6,912.8 L1108.0,912.8 L1098.3,929.3 Z" fill="#BF00BF"/>
<path d="M1183.3,941.8 L1202.7,941.8 L1193.0,958.3 Z" fill="#BF00BF"/>
<path d="M341.0,146.0 V298.5 M331.0,146.0 H351.0 M331.0,298.5 H351.0" stroke="#008000" stroke-width="3.4" fill="none"/>
<path d="M341.0,216.5 L350.7,233.3 L331.3,233.3 Z" fill="#008000"/>
<path d="M435.7,88.7 V120.0 M425.7,88.7 H445.7 M425.7,120.0 H445.7" stroke="#008000" stroke-width="3.4" fill="none"/>
<path d="M435.7,95.8 L445.4,112.6 L426.0,112.6 Z" fill="#008000"/>
<path d="M530.3,112.3 V174.0 M520.3,112.3 H540.3 M520.3,174.0 H540.3" stroke="#008000" stroke-width="3.4" fill="none"/>
<path d="M530.3,135.5 L540.0,152.3 L520.6,152.3 Z" fill="#008000"/>
<path d="M625.0,103.7 V214.5 M615.0,103.7 H635.0 M615.0,214.5 H635.0" stroke="#008000" stroke-width="3.4" fill="none"/>
<path d="M625.0,152.2 L634.7,169.0 L615.3,169.0 Z" fill="#008000"/>
<path d="M719.7,100.3 V205.0 M709.7,100.3 H729.7 M709.7,205.0 H729.7" stroke="#008000" stroke-width="3.4" fill="none"/>
<path d="M719.7,145.5 L729.4,162.3 L710.0,162.3 Z" fill="#008000"/>
<path d="M814.3,124.0 V214.3 M804.3,124.0 H824.3 M804.3,214.3 H824.3" stroke="#008000" stroke-width="3.4" fill="none"/>
<path d="M814.3,161.5 L824.0,178.3 L804.6,178.3 Z" fill="#008000"/>
<path d="M909.0,132.0 V239.0 M899.0,132.0 H919.0 M899.0,239.0 H919.0" stroke="#008000" stroke-width="3.4" fill="none"/>
<path d="M909.0,177.5 L918.7,194.3 L899.3,194.3 Z" fill="#008000"/>
<path d="M1003.7,392.0 V426.0 M993.7,392.0 H1013.7 M993.7,426.0 H1013.7" stroke="#008000" stroke-width="3.4" fill="none"/>
<path d="M1003.7,401.1 L1013.4,417.9 L994.0,417.9 Z" fill="#008000"/>
<path d="M1098.3,861.9 L1108.0,878.7 L1088.6,878.7 Z" fill="#008000"/>
<path d="M1193.0,898.0 V941.0 M1183.0,898.0 H1203.0 M1183.0,941.0 H1203.0" stroke="#008000" stroke-width="3.4" fill="none"/>
<path d="M1193.0,912.5 L1202.7,929.3 L1183.3,929.3 Z" fill="#008000"/>
<path d="M341.0,258.2 V300.4 M331.0,258.2 H351.0 M331.0,300.4 H351.0" stroke="#FF0000" stroke-width="3.4" fill="none"/>
<rect x="331.0" y="269.3" width="20" height="20" fill="#FF0000"/>
<path d="M435.7,269.2 V295.0 M425.7,269.2 H445.7 M425.7,295.0 H445.7" stroke="#FF0000" stroke-width="3.4" fill="none"/>
<rect x="425.7" y="272.0" width="20" height="20" fill="#FF0000"/>
<path d="M530.3,225.0 V282.4 M520.3,225.0 H540.3 M520.3,282.4 H540.3" stroke="#FF0000" stroke-width="3.4" fill="none"/>
<rect x="520.3" y="243.7" width="20" height="20" fill="#FF0000"/>
<path d="M625.0,191.5 V264.5 M615.0,191.5 H635.0 M615.0,264.5 H635.0" stroke="#FF0000" stroke-width="3.4" fill="none"/>
<rect x="615.0" y="218.7" width="20" height="20" fill="#FF0000"/>
<path d="M719.7,251.9 V302.7 M709.7,251.9 H729.7 M709.7,302.7 H729.7" stroke="#FF0000" stroke-width="3.4" fill="none"/>
<rect x="709.7" y="267.3" width="20" height="20" fill="#FF0000"/>
<path d="M814.3,512.5 V545.2 M804.3,512.5 H824.3 M804.3,545.2 H824.3" stroke="#FF0000" stroke-width="3.4" fill="none"/>
<rect x="804.3" y="518.9" width="20" height="20" fill="#FF0000"/>
<rect x="899.0" y="870.5" width="20" height="20" fill="#FF0000"/>
<path d="M1003.7,879.0 V899.0 M993.7,879.0 H1013.7 M993.7,899.0 H1013.7" stroke="#FF0000" stroke-width="3.4" fill="none"/>
<rect x="993.7" y="878.9" width="20" height="20" fill="#FF0000"/>
<path d="M1098.3,902.6 V968.6 M1088.3,902.6 H1108.3 M1088.3,968.6 H1108.3" stroke="#FF0000" stroke-width="3.4" fill="none"/>
<rect x="1088.3" y="925.6" width="20" height="20" fill="#FF0000"/>
<rect x="1183.0" y="945.0" width="20" height="20" fill="#FF0000"/>
<path d="M490.1,206.0 V226.5 M480.1,206.0 H500.1 M480.1,226.5 H500.1" stroke="#0000FF" stroke-width="3.4" fill="none"/>
<circle cx="490.1" cy="216.2" r="9.8" fill="#0000FF"/>
<path d="M584.8,139.0 V207.5 M574.8,139.0 H594.8 M574.8,207.5 H594.8" stroke="#0000FF" stroke-width="3.4" fill="none"/>
<circle cx="584.8" cy="173.3" r="9.8" fill="#0000FF"/>
<path d="M679.4,139.3 V263.0 M669.4,139.3 H689.4 M669.4,263.0 H689.4" stroke="#0000FF" stroke-width="3.4" fill="none"/>
<circle cx="679.4" cy="200.7" r="9.8" fill="#0000FF"/>
<path d="M774.1,114.0 V202.7 M764.1,114.0 H784.1 M764.1,202.7 H784.1" stroke="#0000FF" stroke-width="3.4" fill="none"/>
<circle cx="774.1" cy="158.3" r="9.8" fill="#0000FF"/>
<path d="M868.8,192.7 V263.3 M858.8,192.7 H878.8 M858.8,263.3 H878.8" stroke="#0000FF" stroke-width="3.4" fill="none"/>
<circle cx="868.8" cy="228.0" r="9.8" fill="#0000FF"/>
<path d="M963.4,162.3 V237.0 M953.4,162.3 H973.4 M953.4,237.0 H973.4" stroke="#0000FF" stroke-width="3.4" fill="none"/>
<circle cx="963.4" cy="199.7" r="9.8" fill="#0000FF"/>
<path d="M1058.1,147.6 V176.0 M1048.1,147.6 H1068.1 M1048.1,176.0 H1068.1" stroke="#0000FF" stroke-width="3.4" fill="none"/>
<circle cx="1058.1" cy="161.8" r="9.8" fill="#0000FF"/>
<circle cx="1152.8" cy="433.6" r="9.8" fill="#0000FF"/>
<path d="M1247.4,778.0 V808.0 M1237.4,778.0 H1257.4 M1237.4,808.0 H1257.4" stroke="#0000FF" stroke-width="3.4" fill="none"/>
<circle cx="1247.4" cy="793.0" r="9.8" fill="#0000FF"/>
<circle cx="1342.1" cy="888.0" r="9.8" fill="#0000FF"/>
<path d="M1265,95.5 H1367" stroke="#0000FF" stroke-width="4" fill="none"/>
<circle cx="1315.5" cy="95.5" r="9.8" fill="#0000FF"/>
<text x="1419" y="119.0" class="lg">A</text>
<path d="M1265,219.5 H1367" stroke="#FF0000" stroke-width="4" fill="none"/>
<rect x="1305.5" y="209.5" width="20" height="20" fill="#FF0000"/>
<text x="1419" y="243.0" class="lg">B</text>
<path d="M1265,344 H1367" stroke="#008000" stroke-width="4" fill="none"/>
<path d="M1315.5,335.5 L1325.2,352.3 L1305.8,352.3 Z" fill="#008000"/>
<text x="1419" y="367.5" class="lg">C</text>
<path d="M1265,468.5 H1367" stroke="#BF00BF" stroke-width="4" fill="none"/>
<path d="M1305.8,460.3 L1325.2,460.3 L1315.5,476.8 Z" fill="#BF00BF"/>
<text x="1419" y="492.0" class="lg">D</text>
<text class="tt" transform="translate(94.5,999) rotate(-90)" y="0"><tspan x="0.0 40.2 80.3 140.0 176.4 219.9">human </tspan><tspan x="239.8 276.1 313.0 335.5" font-style="italic">ecto</tspan><tspan x="376.8 397.5 435.9 452.4 502.2 543.5 560.9 600.0 639.0 660.4 679.6 716.9 736.3 759.5 796.3 813.7 838.4 901.0">-5'NT activity (%)</tspan></text>
<text class="tt" y="1272.5"><tspan x="540.0 558.3 600.0 641.7 660.0 682.2 720.0 758.2 819.3 861.0 902.7 943.8 983.5 1024.1 1045.4 1063.7">log [compound], </tspan></text><text transform="translate(1082,1272.5) scale(1.2,1)" font-family="Liberation Serif" font-size="70" fill="#000" x="-2" y="0">μ</text><text class="tt" x="1123.5" y="1272.5">M</text>
</g>
</svg>
</body></html>
